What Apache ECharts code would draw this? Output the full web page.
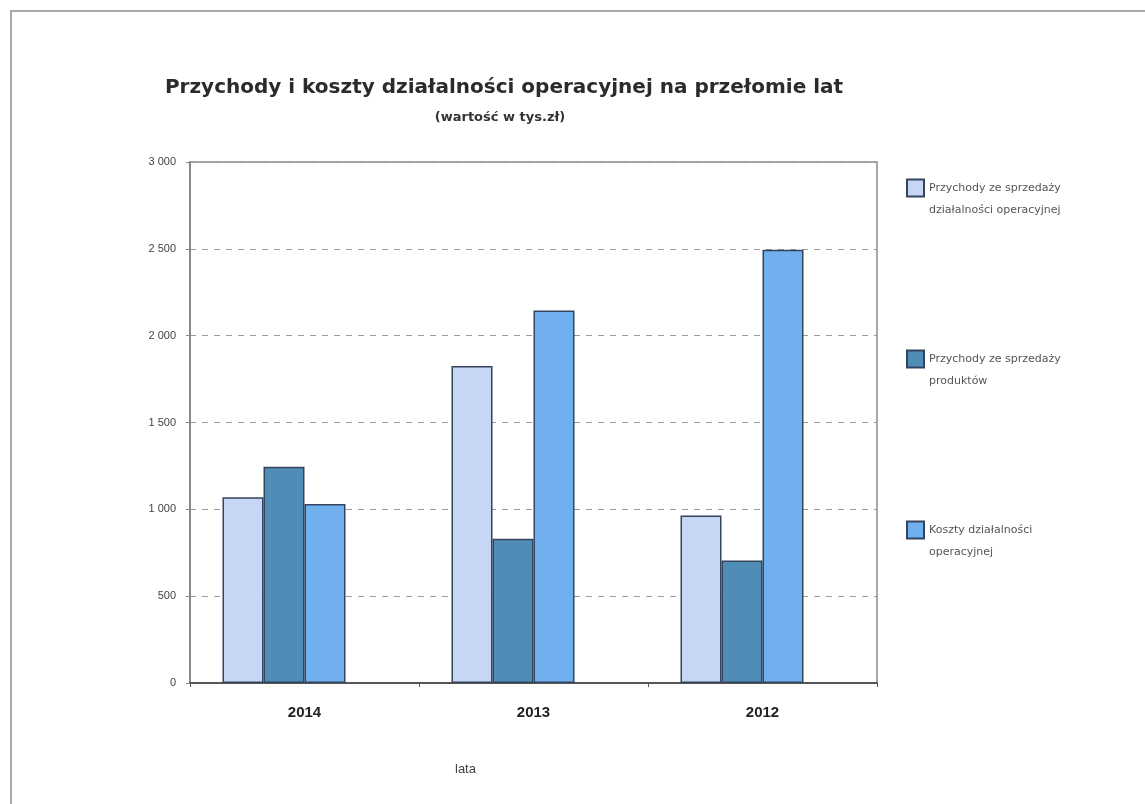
<!DOCTYPE html>
<html>
<head>
<meta charset="utf-8">
<script src="https://cdn.jsdelivr.net/npm/echarts@6/dist/echarts.min.js"></script>
<style>
html,body{margin:0;padding:0;background:#fff;}
#chart{width:1145px;height:804px;}
</style>
</head>
<body>
<div id="chart"></div>
<script>
const categories = ['2014', '2013', '2012'];
const seriesNames = [
  'Przychody ze sprzedaży\ndziałalności operacyjnej',
  'Przychody ze sprzedaży\nproduktów',
  'Koszty działalności\noperacyjnej'
];
const przychodyDzialalnosci = [1070, 1825, 965];
const przychodyProduktow = [1245, 830, 705];
const kosztyDzialalnosci = [1030, 2145, 2495];

const colors = ['#c7d6f4', '#4f8db6', '#71b0ef'];
const borderCol = '#34445f';
const values = [przychodyDzialalnosci, przychodyProduktow, kosztyDzialalnosci];

const chart = echarts.init(document.getElementById('chart'));
const series = values.map((v, i) => ({
  name: seriesNames[i],
  type: 'bar',
  data: v,
  barWidth: 41,
  barGap: '0%',
  itemStyle: { color: colors[i], borderColor: borderCol, borderWidth: 1.5 }
}));
// empty slot (as in the original Excel layout, bars sit left of category center)
series.push({ name: 'spacer', type: 'bar', data: categories.map(() => '-'), barWidth: 41, barGap: '0%', silent: true });

chart.setOption({
  animation: false,
  title: [
    { text: 'Przychody i koszty działalności operacyjnej na przełomie lat', left: 499, top: 73, textAlign: 'center',
      textStyle: { fontFamily: 'DejaVu Sans', fontSize: 20, fontWeight: 'bold', color: '#2b2b2b' } },
    { text: '(wartość w tys.zł)', left: 495, top: 106, textAlign: 'center',
      textStyle: { fontFamily: 'DejaVu Sans', fontSize: 13, fontWeight: 'bold', color: '#333' } }
  ],
  graphic: [
    { type: 'rect', shape: { x: 11, y: 11, width: 1300, height: 900 }, style: { fill: 'none', stroke: '#a8a8a8', lineWidth: 2 }, z: -1 },
    { type: 'text', left: 455, top: 763, style: { text: 'lata', font: '13px Liberation Sans, Arial', fill: '#444' } }
  ],
  legend: {
    orient: 'vertical',
    left: 906,
    top: 155,
    padding: 0,
    itemGap: 105,
    itemWidth: 17,
    itemHeight: 17,
    icon: 'rect',
    data: seriesNames,
    selectedMode: false,
    formatter: name => '\n' + name,
    textStyle: { fontFamily: 'DejaVu Sans', fontSize: 11, color: '#555', lineHeight: 22 }
  },
  grid: { left: 190, top: 162, width: 687, height: 521, show: true, borderColor: '#8a8a8a', borderWidth: 1.5, backgroundColor: 'transparent' },
  xAxis: {
    type: 'category',
    data: categories,
    axisLine: { lineStyle: { color: '#555', width: 2 } },
    axisTick: { show: true, length: 4, lineStyle: { color: '#555' } },
    axisLabel: { margin: 22, fontFamily: 'Liberation Sans, Arial', fontSize: 15, fontWeight: 'bold', color: '#222' }
  },
  yAxis: {
    type: 'value',
    min: 0,
    max: 3000,
    interval: 500,
    axisLine: { show: true, lineStyle: { color: '#888', width: 2 } },
    axisTick: { show: true, length: 4, lineStyle: { color: '#888' } },
    splitLine: { lineStyle: { color: '#9a9a9a', type: [6, 6], width: 1 } },
    axisLabel: { margin: 14, fontFamily: 'Liberation Sans, Arial', fontSize: 11, color: '#444',
      formatter: v => String(v).replace(/\B(?=(\d{3})+(?!\d))/g, ' ') }
  },
  series: series
});
</script>
</body>
</html>
